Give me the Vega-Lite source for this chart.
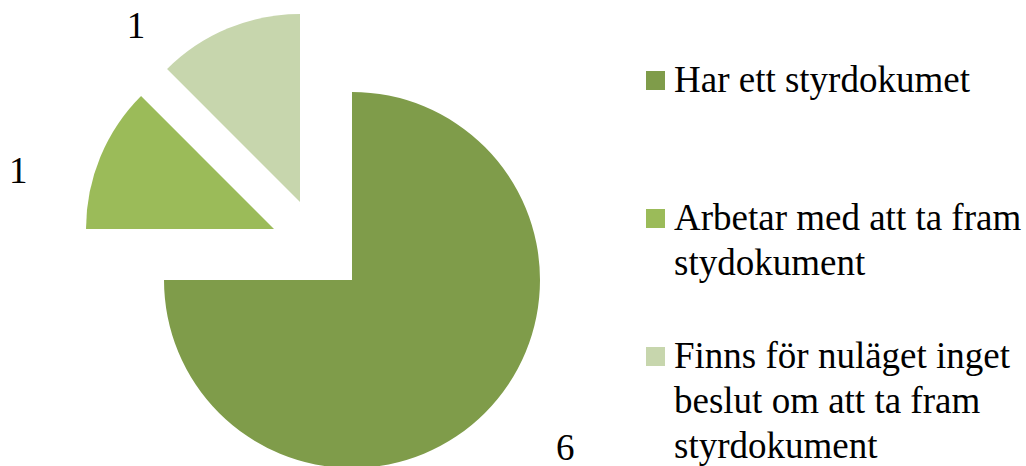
{
  "$schema": "https://vega.github.io/schema/vega-lite/v6.json",
  "width": 636,
  "height": 466,
  "autosize": {"type": "none"},
  "padding": {"left": 0, "top": 0, "right": 390, "bottom": 0},
  "background": "white",
  "config": {"view": {"stroke": null}},
  "data": {
    "values": [
      {"cat": "Har ett styrdokumet", "n": 6},
      {"cat": "Arbetar med att ta fram stydokument", "n": 1},
      {"cat": "Finns för nuläget inget beslut om att ta fram styrdokument", "n": 1}
    ]
  },
  "transform": [
    {"stack": "n", "groupby": [], "as": ["s0", "s1"]}
  ],
  "encoding": {
    "color": {
      "field": "cat",
      "type": "nominal",
      "scale": {
        "domain": ["Har ett styrdokumet", "Arbetar med att ta fram stydokument", "Finns för nuläget inget beslut om att ta fram styrdokument"],
        "range": ["#7F9C4A", "#9BBB59", "#C7D6AD"]
      },
      "legend": {
        "title": null,
        "orient": "none",
        "legendX": 637,
        "legendY": 62,
        "padding": 0,
        "symbolType": "square",
        "symbolSize": 361,
        "symbolStrokeWidth": 0,
        "symbolOpacity": 1,
        "labelFont": "Liberation Serif",
        "labelFontSize": 37,
        "labelColor": "#000000",
        "labelLimit": 0,
        "labelOffset": 0,
        "labelBaseline": "top",
        "rowPadding": 10,
        "gridAlign": "all",
        "labelExpr": "datum.label == 'Arbetar med att ta fram stydokument' ? ['Arbetar med att ta fram', 'stydokument'] : datum.label == 'Finns för nuläget inget beslut om att ta fram styrdokument' ? ['Finns för nuläget inget', 'beslut om att ta fram', 'styrdokument'] : datum.label",
        "encode": {"labels": {"update": {"lineHeight": {"value": 45}, "dy": {"value": -18}}}}
      }
    }
  },
  "layer": [
    {
      "transform": [{"filter": "datum.cat == 'Har ett styrdokumet'"}],
      "mark": {"type": "arc", "radius": 188, "xOffset": 34, "yOffset": 47},
      "encoding": {"theta": {"field": "s0", "type": "quantitative", "scale": {"domain": [0, 8]}}, "theta2": {"field": "s1"}}
    },
    {
      "transform": [{"filter": "datum.cat == 'Arbetar med att ta fram stydokument'"}],
      "mark": {"type": "arc", "radius": 188, "xOffset": -44, "yOffset": -4},
      "encoding": {"theta": {"field": "s0", "type": "quantitative", "scale": {"domain": [0, 8]}}, "theta2": {"field": "s1"}}
    },
    {
      "transform": [{"filter": "datum.cat == 'Finns för nuläget inget beslut om att ta fram styrdokument'"}],
      "mark": {"type": "arc", "radius": 188, "xOffset": -18, "yOffset": -31},
      "encoding": {"theta": {"field": "s0", "type": "quantitative", "scale": {"domain": [0, 8]}}, "theta2": {"field": "s1"}}
    },
    {
      "transform": [{"filter": "datum.cat == 'Har ett styrdokumet'"}],
      "mark": {"type": "text", "radius": 272, "thetaOffset": 2.241, "xOffset": 34, "yOffset": 47, "font": "Liberation Serif", "fontSize": 37, "align": "center", "baseline": "middle"},
      "encoding": {"theta": {"field": "s0", "type": "quantitative", "scale": {"domain": [0, 8]}}, "text": {"field": "n", "type": "quantitative"}, "color": {"value": "#000000"}}
    },
    {
      "transform": [{"filter": "datum.cat == 'Arbetar med att ta fram stydokument'"}],
      "mark": {"type": "text", "radius": 262, "thetaOffset": 0.219, "xOffset": -44, "yOffset": -4, "font": "Liberation Serif", "fontSize": 37, "align": "center", "baseline": "middle"},
      "encoding": {"theta": {"field": "s0", "type": "quantitative", "scale": {"domain": [0, 8]}}, "text": {"field": "n", "type": "quantitative"}, "color": {"value": "#000000"}}
    },
    {
      "transform": [{"filter": "datum.cat == 'Finns för nuläget inget beslut om att ta fram styrdokument'"}],
      "mark": {"type": "text", "radius": 240, "thetaOffset": 0.033, "xOffset": -18, "yOffset": -31, "font": "Liberation Serif", "fontSize": 37, "align": "center", "baseline": "middle"},
      "encoding": {"theta": {"field": "s0", "type": "quantitative", "scale": {"domain": [0, 8]}}, "text": {"field": "n", "type": "quantitative"}, "color": {"value": "#000000"}}
    }
  ]
}
